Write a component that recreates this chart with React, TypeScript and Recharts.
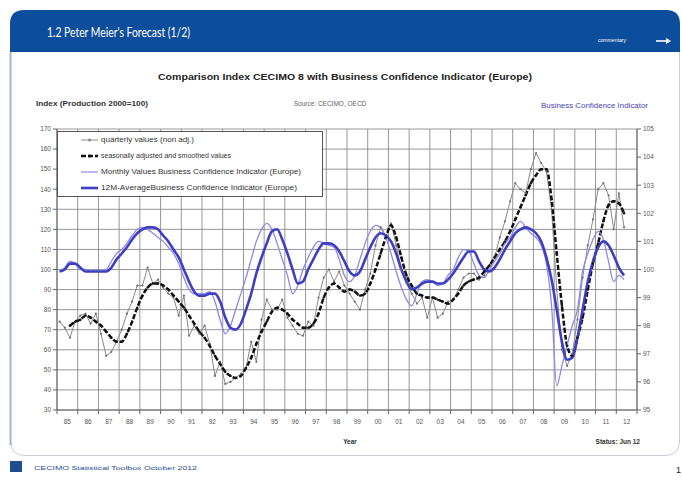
import React from 'react';
import { LineChart, Line, XAxis, YAxis, CartesianGrid } from 'recharts';

// Years shown on the x axis (each label centred in its year)
const years = [1985, 1986, 1987, 1988, 1989, 1990, 1991, 1992, 1993, 1994, 1995, 1996, 1997, 1998, 1999, 2000, 2001, 2002, 2003, 2004, 2005, 2006, 2007, 2008, 2009, 2010, 2011, 2012];
const yearLabels = ['85', '86', '87', '88', '89', '90', '91', '92', '93', '94', '95', '96', '97', '98', '99', '00', '01', '02', '03', '04', '05', '06', '07', '08', '09', '10', '11', '12'];
const leftTicks = [30, 40, 50, 60, 70, 80, 90, 100, 110, 120, 130, 140, 150, 160, 170];
const rightTicks = [95, 96, 97, 98, 99, 100, 101, 102, 103, 104, 105];

// Quarterly series, starting 1985 Q1, ending 2012 Q2 (left axis, index 2000=100)
const quarterlyValues = [
  74, 71, 66, 74,
  77, 78, 73, 78,
  68, 57, 59, 64,
  70, 78, 84, 92,
  92, 101, 93, 95,
  91, 88, 86, 77,
  87, 67, 72, 68,
  72, 63, 47, 54,
  43, 44, 46, 48,
  51, 64, 54, 75,
  85, 80, 80, 85,
  76, 72, 68, 67,
  74, 72, 86, 96,
  100, 94, 99, 92,
  88, 84, 80, 90,
  98, 112, 121, 116,
  123, 112, 100, 93,
  88, 83, 86, 76,
  86, 76, 78, 84,
  85, 90, 96, 98,
  98, 95, 97, 102,
  106, 116, 124, 134,
  143, 140, 138, 150,
  158, 153, 149, 130,
  90, 60, 52, 58,
  75, 96, 112, 125,
  140, 143, 137, 120,
  138, 121,
];

const smoothedValues = [
  null, null, 72, 74,
  75, 77, 76, 74,
  72, 69, 66, 64,
  64, 68, 74, 81,
  87, 91, 93, 93,
  92, 90, 87, 84,
  81, 77, 73, 69,
  66, 62, 57, 53,
  49, 47, 46, 47,
  51, 56, 63, 69,
  74, 79, 81, 80,
  78, 75, 73, 71,
  71, 73, 78, 86,
  91, 93, 91, 89,
  90, 89, 87, 88,
  93, 100, 108, 116,
  122, 116, 106, 97,
  92, 88, 87, 86,
  86, 85, 84, 83,
  85, 88, 92, 94,
  95, 96, 99, 102,
  106, 110, 114, 119,
  125, 131, 137, 143,
  147, 150, 150, 135,
  108, 82, 62, 57,
  66, 76, 90, 103,
  113, 124, 132, 134,
  133, 128,
];

// Business Confidence Indicator (right axis)
const bciMonthly = [
  99.93, 100.07, 100.29, 100.21,
  100.0, 100.0, 99.93, 100.0,
  99.93, 100.0, 100.29, 100.57,
  100.71, 100.93, 101.21, 101.43,
  101.5, 101.43, 101.29, 101.14,
  101.0, 100.79, 100.57, 100.21,
  99.71, 99.29, 99.14, 99.14,
  99.14, 99.21, 98.86, 98.21,
  97.71, 98.0, 98.57, 99.14,
  99.71, 100.36, 101.0, 101.43,
  101.64, 101.43, 100.93, 100.36,
  99.79, 99.14, 99.43, 100.0,
  100.43, 100.79, 101.0, 100.93,
  100.86, 100.79, 100.36, 99.79,
  99.57, 99.79, 100.36, 100.93,
  101.36, 101.57, 101.5, 101.14,
  100.57, 99.93, 99.36, 98.93,
  98.71, 99.14, 99.57, 99.64,
  99.57, 99.43, 99.5, 99.79,
  100.0, 100.43, 100.71, 100.64,
  100.21, 99.79, 99.71, 100.0,
  100.29, 100.57, 100.93, 101.14,
  101.5, 101.71, 101.5, 101.29,
  101.14, 100.86, 100.21, 98.71,
  95.86, 96.57, 97.29, 98.0,
  98.57, 99.93, 100.57, 101.07,
  101.36, 101.07, 100.29, 99.57,
  99.79, 99.64,
];

const bci12M = [
  99.93, 100.0, 100.21, 100.21,
  100.07, 99.93, 99.93, 99.93,
  99.93, 99.93, 100.07, 100.36,
  100.57, 100.79, 101.07, 101.29,
  101.43, 101.5, 101.5, 101.43,
  101.21, 101.0, 100.71, 100.43,
  100.0, 99.57, 99.21, 99.07,
  99.07, 99.14, 99.14, 98.86,
  98.29, 97.93, 97.86, 98.07,
  98.57, 99.14, 99.86, 100.43,
  100.93, 101.36, 101.43, 101.07,
  100.57, 100.0, 99.5, 99.57,
  100.0, 100.36, 100.71, 100.93,
  100.93, 100.86, 100.64, 100.29,
  99.93, 99.79, 99.93, 100.36,
  100.79, 101.14, 101.29, 101.21,
  101.0, 100.57, 100.0, 99.57,
  99.29, 99.36, 99.5, 99.57,
  99.57, 99.5, 99.5, 99.64,
  99.86, 100.14, 100.43, 100.64,
  100.64, 100.29, 100.0, 99.93,
  100.07, 100.36, 100.71, 101.0,
  101.29, 101.43, 101.5, 101.43,
  101.29, 101.0, 100.43, 99.64,
  98.57, 97.43, 96.79, 96.86,
  97.57, 98.57, 99.57, 100.29,
  100.79, 101.0, 100.86, 100.5,
  100.07, 99.79,
];

const rows = quarterlyValues.map((q, i) => ({
  t: years[0] + (i + 0.5) / 4,
  q,
  s: smoothedValues[i],
  m: bciMonthly[i],
  a: bci12M[i],
}));

const xTicks = [...years, years[years.length - 1] + 1];
const FONT = '"Liberation Sans", Arial, sans-serif';

const XTick = (props: any) => {
  const { x, y, payload } = props;
  const idx = years.indexOf(payload.value);
  if (idx < 0) return null;
  const half = 580 / years.length / 2;
  return (
    <text x={x + half} y={y + 8} textAnchor="middle" fontSize={6.5} fill="#555" fontFamily={FONT}>
      {yearLabels[idx]}
    </text>
  );
};

const legendItems = [
  { label: 'quarterly values (non adj.)', color: '#8a8a8a', width: 1, dash: undefined as string | undefined, dot: true, len: 93 },
  { label: 'seasonally adjusted and smoothed values', color: '#111', width: 2.5, dash: '5 2', dot: true, len: 130 },
  { label: 'Monthly Values Business Confidence Indicator (Europe)', color: '#8a8ae6', width: 1.2, dash: undefined, dot: false, len: 200 },
  { label: '12M-AverageBusiness Confidence Indicator (Europe)', color: '#3e3ec4', width: 2.6, dash: undefined, dot: false, len: 196 },
];

export default function App() {
  return (
    <div style={{ position: 'absolute', left: 0, top: 0, width: 682, height: 481, background: '#fff', overflow: 'hidden' }}>
      <svg width={682} height={481} style={{ position: 'absolute', left: 0, top: 0 }}>
        {/* panel */}
        <path d="M10.5,40 L10.5,441 Q10.5,455.5 25,455.5 L665,455.5 Q679.5,455.5 679.5,441 L679.5,40" fill="#fff" stroke="#c9ced6" strokeWidth={1} />
        <line x1={10.5} y1={52} x2={10.5} y2={445} stroke="#9fb6d6" strokeWidth={2} />
        {/* header */}
        <path d="M10,52 L10,24 Q10,10 24,10 L666,10 Q680,10 680,24 L680,52 Z" fill="#0d4e9c" />
        <text x={47} y={37} fill="#fff" fontSize={14} fontFamily='Lato, "Open Sans", sans-serif' textLength={143} lengthAdjust="spacingAndGlyphs">
          1.2 Peter Meier's Forecast (1/2)
        </text>
        <text x={598} y={42} fill="#fff" fontSize={5} fontFamily={FONT} textLength={28} lengthAdjust="spacingAndGlyphs">commentary</text>
        <line x1={656} y1={41} x2={669} y2={41} stroke="#fff" strokeWidth={1.6} />
        <path d="M666,38 L671,41 L666,44 Z" fill="#fff" />
        {/* chart titles */}
        <text x={345} y={80} textAnchor="middle" fontSize={9} fontWeight="bold" fill="#222" fontFamily={FONT} textLength={374} lengthAdjust="spacingAndGlyphs">
          Comparison Index CECIMO 8 with Business Confidence Indicator (Europe)
        </text>
        <text x={36} y={106} fontSize={6.5} fontWeight="bold" fill="#333" fontFamily={FONT} textLength={112} lengthAdjust="spacingAndGlyphs">
          Index (Production 2000=100)
        </text>
        <text x={330} y={106} textAnchor="middle" fontSize={6.5} fill="#666" fontFamily={FONT}>
          Source: CECIMO, OECD
        </text>
        <text x={648} y={108} textAnchor="end" fontSize={6.5} fill="#4444b8" fontFamily={FONT} textLength={107} lengthAdjust="spacingAndGlyphs">
          Business Confidence Indicator
        </text>
        <text x={350} y={444} textAnchor="middle" fontSize={6.5} fontWeight="bold" fill="#333" fontFamily={FONT}>Year</text>
        <text x={640} y={444} textAnchor="end" fontSize={6.5} fontWeight="bold" fill="#333" fontFamily={FONT}>Status: Jun 12</text>
        {/* footer */}
        <rect x={10} y={461} width={12} height={11} fill="#1f4e8f" />
        <text x={34} y={470} fontSize={6} fill="#2a4f9a" fontFamily={FONT} textLength={163} lengthAdjust="spacingAndGlyphs">
          CECIMO Statistical Toolbox October 2012
        </text>
        <text x={676} y={473} fontSize={9} fill="#222" fontFamily={FONT}>1</text>
      </svg>

      <div style={{ position: 'absolute', left: 0, top: 0 }}>
        <LineChart width={682} height={481} data={rows} margin={{ top: 129, right: 15, bottom: 51, left: 27 }}>
          <CartesianGrid yAxisId="left" stroke="#8a8a8a" strokeWidth={0.9} />
          <XAxis
            dataKey="t"
            type="number"
            domain={[1985, 2013]}
            ticks={xTicks}
            interval={0}
            height={20}
            tick={<XTick />}
            tickSize={4}
            axisLine={{ stroke: '#666' }}
            tickLine={{ stroke: '#666' }}
          />
          <YAxis
            yAxisId="left"
            domain={[30, 170]}
            ticks={leftTicks}
            interval={0}
            width={30}
            tickSize={4}
            tick={{ fontSize: 6.5, fill: '#555', fontFamily: FONT }}
            axisLine={{ stroke: '#666' }}
            tickLine={{ stroke: '#666' }}
          />
          <YAxis
            yAxisId="right"
            orientation="right"
            domain={[95, 105]}
            ticks={rightTicks}
            interval={0}
            width={30}
            tickSize={4}
            tick={{ fontSize: 6.5, fill: '#555', fontFamily: FONT }}
            axisLine={{ stroke: '#666' }}
            tickLine={{ stroke: '#666' }}
          />
          <Line yAxisId="left" dataKey="q" type="linear" stroke="#8a8a8a" strokeWidth={1} dot={{ r: 1.1, fill: '#6f6f6f', stroke: 'none' }} isAnimationActive={false} />
          <Line yAxisId="left" dataKey="s" type="monotone" stroke="#111" strokeWidth={2.5} strokeDasharray="5 2" dot={{ r: 1.2, fill: '#111', stroke: 'none' }} isAnimationActive={false} />
          <Line yAxisId="right" dataKey="m" type="monotone" stroke="#8a8ae6" strokeWidth={1.3} dot={false} isAnimationActive={false} />
          <Line yAxisId="right" dataKey="a" type="monotone" stroke="#3e3ec4" strokeWidth={2.6} dot={false} isAnimationActive={false} />
        </LineChart>
      </div>

      <svg width={682} height={481} style={{ position: 'absolute', left: 0, top: 0, pointerEvents: 'none' }}>
        <rect x={57.5} y={131.5} width={265} height={65} fill="#fff" stroke="#555" strokeWidth={1} />
        {legendItems.map((it, i) => {
          const y = 140 + i * 16;
          return (
            <g key={it.label}>
              <line x1={81} y1={y} x2={98} y2={y} stroke={it.color} strokeWidth={it.width} strokeDasharray={it.dash} />
              {it.dot && <circle cx={89.5} cy={y} r={1.5} fill={it.color} />}
              <text x={101} y={y + 2.3} fontSize={6.5} fill="#333" fontFamily={FONT} textLength={it.len} lengthAdjust="spacingAndGlyphs">
                {it.label}
              </text>
            </g>
          );
        })}
      </svg>
    </div>
  );
}
